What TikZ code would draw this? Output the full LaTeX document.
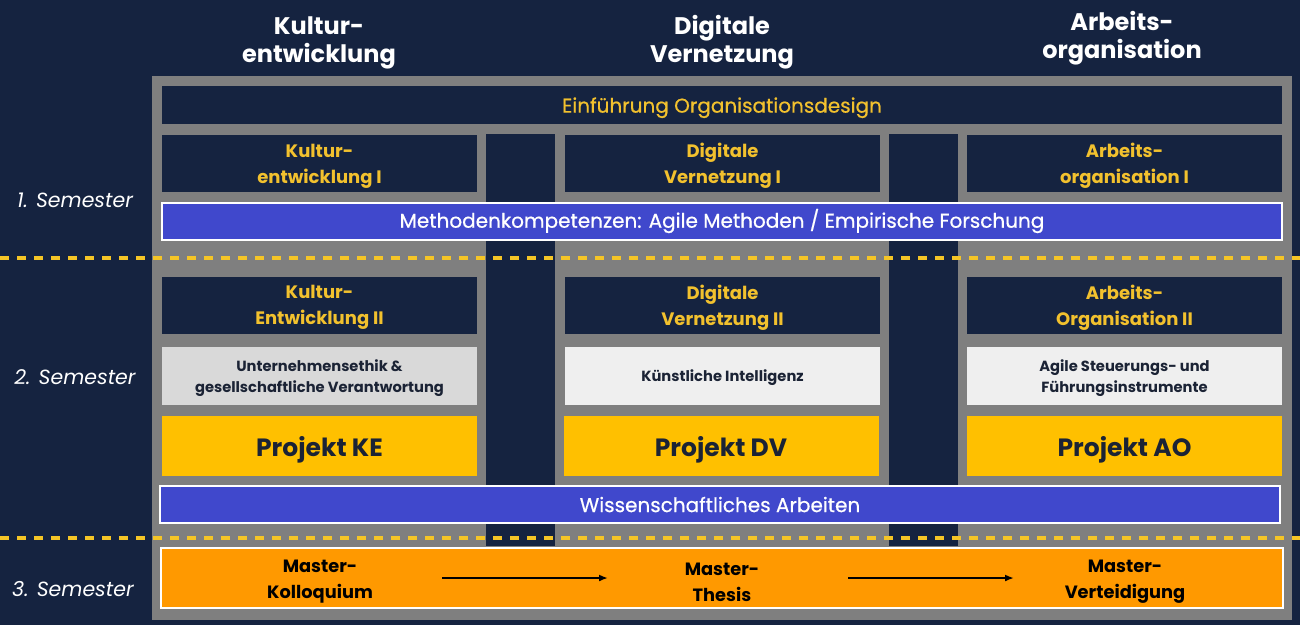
\documentclass[tikz,border=0pt]{standalone}
\usepackage{fontspec}
\setmainfont{Poppins}
\newfontfamily\popmed{Poppins}[FakeBold=0.6]
\usetikzlibrary{arrows.meta}
\definecolor{navy}{RGB}{21,35,64}
\definecolor{panelgray}{RGB}{127,127,127}
\definecolor{ytext}{RGB}{242,193,46}
\definecolor{barblue}{RGB}{64,72,204}
\definecolor{lgrayA}{RGB}{217,217,217}
\definecolor{lgrayB}{RGB}{239,239,239}
\definecolor{gold}{RGB}{255,192,0}
\definecolor{orangebar}{RGB}{255,153,0}
\definecolor{dashy}{RGB}{245,197,38}
\definecolor{inktext}{RGB}{27,35,53}
\tikzset{
  base/.style={inner sep=0pt, outer sep=0pt, align=center},
  colhead/.style={base, text=white, font=\fontsize{24}{28}\selectfont\bfseries},
  darkbox/.style={base, fill=navy, text=ytext},
  rowhead/.style={darkbox, minimum width=315, minimum height=57, text depth=0pt, font=\fontsize{18}{26}\selectfont\bfseries},
  bluebar/.style={base, fill=barblue, draw=white, line width=2pt, text=white, font=\popmed\fontsize{20}{22}\selectfont},
  topicbox/.style={base, minimum width=315, minimum height=58, text depth=0pt, text=inktext, font=\fontsize{14.7}{21}\selectfont\bfseries},
  projbox/.style={base, fill=gold, minimum width=315, minimum height=60, text depth=0pt, text=inktext, font=\fontsize{25}{28}\selectfont\bfseries},
  mastertxt/.style={base, text=black, font=\fontsize{17.8}{26}\selectfont\bfseries},
  semlabel/.style={base, text=white, font=\fontsize{20.5}{22}\selectfont\itshape},
  semline/.style={draw=dashy, line width=4pt, dash pattern=on 9pt off 8pt},
  flow/.style={draw=black, line width=1.8pt, -{Latex[length=9pt,width=7pt]}}
}
\begin{document}
\begin{tikzpicture}[x=1pt,y=-1pt]
\fill[navy] (0,0) rectangle (1300,625);
\useasboundingbox (0,0) rectangle (1300,625);
% grey panel and dark gaps
\fill[panelgray] (152,76) rectangle (1292,620);
\fill[navy] (486,134) rectangle (555,546);
\fill[navy] (889,134) rectangle (958,546);

% column headers
\node[colhead] (h1) at (319,42.5) {Kultur-\\entwicklung};
\node[colhead] (h2) at (722,42.5) {Digitale\\Vernetzung};
\node[colhead] (h3) at (1122,38.5) {Arbeits-\\organisation};

% intro
\node[darkbox, minimum width=1120, minimum height=38, text depth=0pt, font=\popmed\fontsize{20}{22}\selectfont] (intro) at (722,105) {Einführung Organisationsdesign};

% row 1
\node[rowhead] (k1) at (319.5,163.5) {Kultur-\\entwicklung I};
\node[rowhead] (d1) at (722.5,163.5) {Digitale\\Vernetzung I};
\node[rowhead] (a1) at (1124.5,163.5) {Arbeits-\\organisation I};

\node[bluebar, minimum width=1120, minimum height=37] (meth) at (722,221) {Methodenkompetenzen: Agile Methoden / Empirische Forschung};

% row 2
\node[rowhead] (k2) at (319.5,305) {Kultur-\\Entwicklung II};
\node[rowhead] (d2) at (722.5,305) {Digitale\\Vernetzung II};
\node[rowhead] (a2) at (1124.5,305) {Arbeits-\\Organisation II};

\node[topicbox, fill=lgrayA] (t1) at (319.5,376) {Unternehmensethik \&\\gesellschaftliche Verantwortung};
\node[topicbox, fill=lgrayB] (t2) at (722.5,376) {Künstliche Intelligenz};
\node[topicbox, fill=lgrayB] (t3) at (1124.5,376) {Agile Steuerungs- und\\Führungsinstrumente};

\node[projbox] (p1) at (319.5,446) {Projekt KE};
\node[projbox] (p2) at (721,446) {Projekt DV};
\node[projbox] (p3) at (1124.5,446) {Projekt AO};

\node[bluebar, minimum width=1120, minimum height=37] (wiss) at (720,504.5) {Wissenschaftliches Arbeiten};

% semester 3
\node[base, fill=orangebar, draw=white, line width=2pt, minimum width=1122, minimum height=60] (master) at (722,578) {};
\node[mastertxt] (m1) at (320,582) {Master-\\Kolloquium};
\node[mastertxt] (m2) at (722,582) {Master-\\Thesis};
\node[mastertxt] (m3) at (1125,582) {Master-\\Verteidigung};
\draw[flow, shorten <=122pt, shorten >=114pt] ([yshift=4pt]m1.center) -- ([yshift=4pt]m2.center);
\draw[flow, shorten <=126pt, shorten >=111pt] ([yshift=4pt]m2.center) -- ([yshift=4pt]m3.center);

% semester separators
\coordinate (s1l) at (0,258);
\coordinate (s1r) at (1300,258);
\coordinate (s2l) at (0,538);
\coordinate (s2r) at (1300,538);
\draw[semline] (s1l) -- (s1r);
\draw[semline] (s2l) -- (s2r);

% semester labels
\node[semlabel] (sem1) at (75,200) {1. Semester};
\node[semlabel] (sem2) at (75,377) {2. Semester};
\node[semlabel] (sem3) at (73,589) {3. Semester};
\end{tikzpicture}
\end{document}
